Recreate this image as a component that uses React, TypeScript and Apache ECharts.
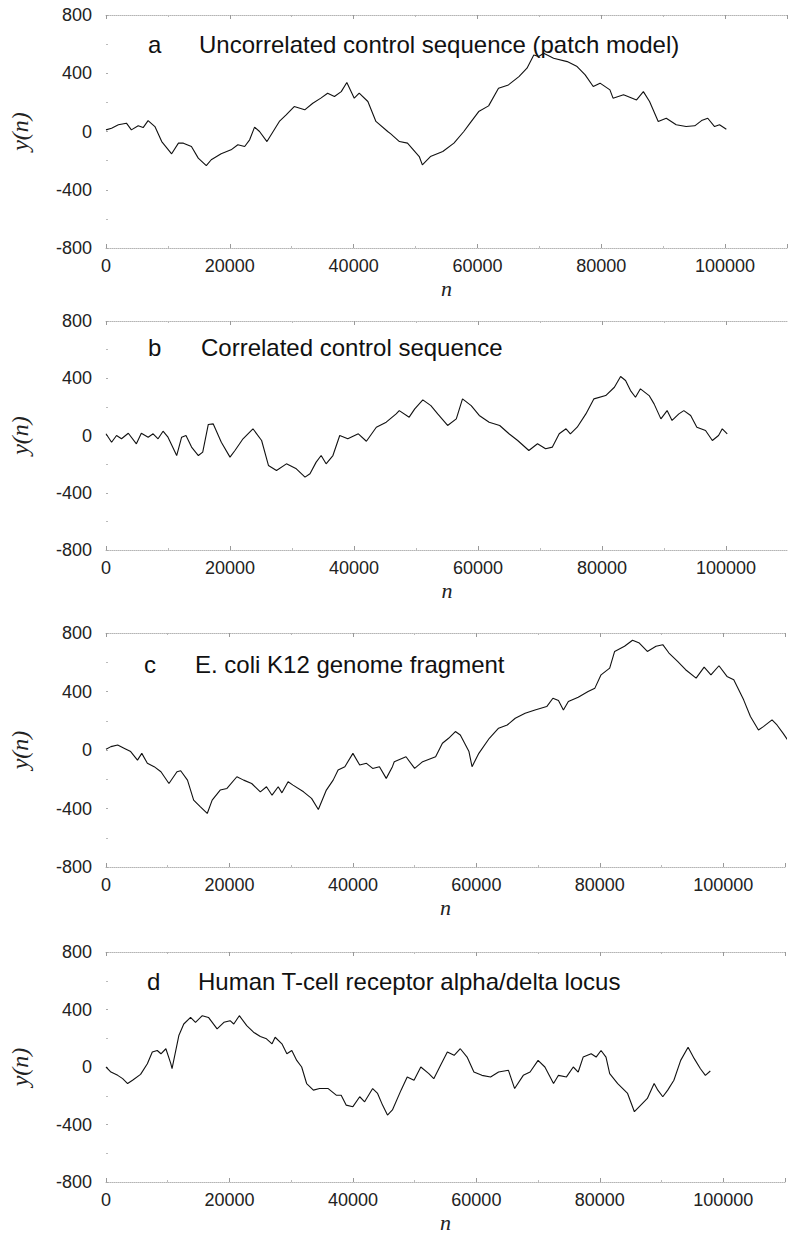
import React, { useEffect, useRef } from "react";
import * as echarts from "echarts";

// Panel data: [n, y(n)]
const walkA: [number, number][] = [
  [0, 11], [900, 23], [2000, 46], [3300, 57], [4100, 11], [5200, 39], [6000, 27], [6800, 75],
  [7900, 34], [9000, -69], [10600, -153], [11700, -80], [12500, -80], [13800, -103], [14900, -183],
  [16200, -235], [17000, -194], [18600, -153], [20200, -126], [21300, -91], [22400, -103],
  [23200, -57], [24000, 30], [24800, 0], [26000, -69], [27000, 0], [28000, 69], [29100, 114],
  [30400, 171], [32100, 149], [33400, 194], [34700, 229], [35800, 263], [36900, 240], [38000, 274],
  [38900, 336], [40100, 229], [40900, 263], [42300, 206], [43600, 69], [45500, 0], [46000, -16],
  [47400, -69], [48700, -80], [50600, -172], [51100, -229], [52400, -172], [54400, -137],
  [56200, -80], [57800, 0], [58800, 57], [60200, 137], [61800, 176], [63400, 297], [65000, 320],
  [66700, 377], [68000, 435], [69100, 526], [69900, 515], [70700, 537], [72300, 503], [74500, 480],
  [76100, 446], [77400, 389], [78700, 309], [79800, 332], [81400, 286], [81900, 229], [83600, 252],
  [85700, 217], [86800, 274], [87800, 206], [89200, 69], [90500, 91], [92100, 46], [93700, 34],
  [95100, 39], [96200, 75], [97200, 91], [98300, 34], [99100, 46], [100200, 16],
];

const walkB: [number, number][] = [
  [0, 12], [900, -47], [1700, 0], [2500, -23], [3600, 16], [4900, -58], [5700, 16], [6800, -12],
  [7600, 12], [8400, -23], [9200, 30], [10000, -12], [11400, -140], [12200, -12], [12900, 0],
  [13800, -81], [14900, -140], [15600, -116], [16500, 77], [17300, 81], [18600, -47], [20000, -151],
  [20800, -105], [22100, -23], [23700, 47], [25100, -35], [26200, -209], [27500, -244], [29100, -198],
  [30700, -233], [32100, -291], [32900, -267], [33900, -186], [34700, -140], [35500, -198],
  [36600, -140], [37700, 0], [39000, -23], [40700, 12], [42000, -40], [43600, 58], [45200, 93],
  [46800, 151], [47300, 174], [48900, 128], [49800, 186], [51100, 249], [52400, 209], [53500, 151],
  [55100, 70], [56500, 116], [57500, 256], [58900, 209], [60200, 140], [61800, 93], [63500, 70],
  [65000, 12], [66400, -35], [68200, -105], [69600, -58], [70900, -93], [72000, -81], [73100, 12],
  [74200, 47], [74900, 12], [76000, 58], [77400, 151], [78700, 256], [80600, 279], [82000, 337],
  [83000, 412], [83800, 384], [84600, 314], [85400, 267], [86200, 326], [87600, 279], [88400, 221],
  [89500, 116], [90500, 174], [91300, 105], [92400, 151], [93200, 174], [94300, 140], [95300, 58],
  [96700, 35], [97800, -35], [98800, 0], [99400, 47], [100200, 12],
];

const walkC: [number, number][] = [
  [0, 5], [800, 23], [1900, 34], [3000, 11], [4000, -11], [5100, -69], [5800, -23], [6700, -91],
  [7800, -114], [8900, -149], [10200, -229], [11500, -149], [12100, -142], [13200, -206],
  [14200, -343], [15300, -389], [16400, -434], [17200, -343], [18500, -274], [19600, -263],
  [21200, -183], [22300, -206], [23600, -229], [25000, -286], [26000, -251], [26900, -309],
  [27900, -251], [28500, -293], [29500, -217], [30300, -240], [32000, -286], [33300, -331],
  [34400, -407], [35700, -274], [36800, -206], [37600, -137], [38700, -114], [40000, -23],
  [41100, -103], [42200, -91], [43200, -126], [44300, -114], [45400, -194], [46400, -114],
  [46700, -80], [48600, -46], [50000, -126], [51300, -80], [53400, -46], [54500, 46], [55500, 80],
  [56600, 126], [57400, 103], [58800, -11], [59300, -114], [60400, -23], [62100, 80], [63600, 149],
  [65000, 171], [66300, 217], [67900, 251], [69500, 274], [71400, 297], [72400, 354], [73300, 338],
  [74100, 274], [74900, 331], [76500, 361], [78100, 400], [79200, 423], [80200, 514], [81600, 560],
  [82400, 674], [84000, 709], [85300, 750], [86400, 731], [87700, 674], [89100, 709], [90200, 720],
  [91200, 663], [92600, 606], [93900, 549], [95600, 491], [96900, 567], [98000, 514], [99300, 576],
  [100600, 503], [101700, 480], [103300, 343], [104400, 229], [105700, 137], [106500, 160],
  [107900, 206], [108700, 171], [109700, 114], [110500, 64],
];

const walkD: [number, number][] = [
  [0, 0], [800, -35], [1900, -58], [2700, -81], [3500, -115], [4300, -92], [5600, -51], [6700, 23],
  [7500, 104], [8300, 115], [8900, 92], [9700, 127], [10500, 23], [10700, -12], [11800, 219],
  [12600, 299], [13700, 345], [14500, 311], [15600, 357], [16600, 345], [18000, 265], [19100, 311],
  [20100, 322], [20700, 299], [21600, 357], [22800, 288], [23900, 242], [25000, 212], [26000, 196],
  [26900, 161], [27400, 207], [28500, 161], [29300, 92], [30100, 115], [30900, 46], [31700, 0],
  [32500, -115], [33600, -161], [34600, -150], [36000, -150], [37300, -196], [38100, -196],
  [38900, -265], [40000, -276], [41100, -207], [41900, -242], [43200, -150], [44000, -184],
  [44800, -265], [45600, -334], [46400, -299], [47800, -161], [48800, -69], [49900, -92], [51000, 0],
  [52300, -46], [53100, -81], [54200, 12], [55300, 104], [56400, 81], [57400, 127], [58500, 69],
  [59600, -35], [60900, -58], [62300, -69], [63600, -35], [65200, -23], [66200, -150], [67600, -58],
  [68700, -35], [70000, 46], [71100, 0], [72500, -115], [73300, -58], [74600, -69], [75700, 0],
  [76500, -35], [77300, 69], [78600, 92], [79400, 69], [80200, 115], [81000, 69], [81600, -46],
  [82900, -115], [84500, -184], [85600, -311], [86400, -276], [87700, -219], [88800, -115],
  [89400, -161], [90200, -207], [91000, -161], [92000, -92], [93100, 46], [94300, 138], [95300, 58],
  [96300, -12], [97100, -58], [97900, -28],
];

const panelLetters = ["a", "b", "c", "d"];
const panelTitles = [
  "Uncorrelated control sequence (patch model)",
  "Correlated control sequence",
  "E. coli K12 genome fragment",
  "Human T-cell receptor alpha/delta locus",
];
const walks = [walkA, walkB, walkC, walkD];

const X_MIN = 0;
const X_MAX = 110000;
const X_STEP = 20000;
const Y_MIN = -800;
const Y_MAX = 800;
const Y_STEP = 400;

const grids = [
  { left: 104, top: 15, width: 683, height: 233 },
  { left: 106, top: 321, width: 683, height: 229 },
  { left: 102, top: 633, width: 683, height: 234 },
  { left: 102, top: 952, width: 683, height: 231 },
];
const titleOffsets = [29, 26, 31, 29];
const letterX = [148, 148, 144, 147];
const titleX = [199, 201, 195, 198];

const SANS = "'Liberation Sans', Arial, Helvetica, sans-serif";
const SERIF = "'Liberation Serif', 'Times New Roman', serif";

export default function App() {
  const ref = useRef<HTMLDivElement>(null);

  useEffect(() => {
    document.body.style.margin = "0";
    if (!ref.current) return;
    const chart = echarts.init(ref.current, null, { renderer: "svg" });

    const xAxes: any[] = [];
    const yAxes: any[] = [];
    const series: any[] = [];
    const graphics: any[] = [];

    grids.forEach((g, i) => {
      const frameLine = {
        show: true,
        onZero: false,
        lineStyle: { color: "#b5b5b5", width: 1, type: "dotted" },
      };
      xAxes.push({
        type: "value",
        gridIndex: i,
        position: "bottom",
        min: X_MIN,
        max: X_MAX,
        interval: X_STEP,
        axisLine: frameLine,
        axisTick: { show: true, inside: true, length: 4, lineStyle: { color: "#999" } },
        minorTick: { show: true, splitNumber: 2, length: 2, lineStyle: { color: "#bbb" } },
        splitLine: { show: false },
        axisLabel: {
          fontSize: 18,
          color: "#222",
          fontFamily: SANS,
          margin: 9,
          showMaxLabel: false,
          formatter: (v: number) => String(v),
        },
        name: "n",
        nameLocation: "middle",
        nameGap: 29,
        nameTextStyle: { fontFamily: SERIF, fontStyle: "italic", fontSize: 22, color: "#222" },
      });
      xAxes.push({
        type: "value",
        gridIndex: i,
        position: "top",
        min: X_MIN,
        max: X_MAX,
        interval: X_STEP,
        axisLine: frameLine,
        axisTick: { show: true, inside: true, length: 4, lineStyle: { color: "#999" } },
        minorTick: { show: true, splitNumber: 2, length: 2, lineStyle: { color: "#bbb" } },
        splitLine: { show: false },
        axisLabel: { show: false },
      });
      yAxes.push({
        type: "value",
        gridIndex: i,
        min: Y_MIN,
        max: Y_MAX,
        interval: Y_STEP,
        axisLine: { show: false, onZero: false },
        axisTick: { show: true, inside: true, length: 2, lineStyle: { color: "#aaa" } },
        minorTick: { show: true, splitNumber: 2, length: 2, lineStyle: { color: "#bbb" } },
        splitLine: { show: false },
        axisLabel: {
          fontSize: 18,
          color: "#222",
          fontFamily: SANS,
          margin: 14,
          formatter: (v: number) => String(v),
        },
        name: "y(n)",
        nameLocation: "middle",
        nameGap: 74,
        nameTextStyle: { fontFamily: SERIF, fontStyle: "italic", fontSize: 24, color: "#222" },
      });
      series.push({
        type: "line",
        xAxisIndex: i * 2,
        yAxisIndex: i,
        data: walks[i],
        showSymbol: false,
        symbol: "none",
        lineStyle: { color: "#111", width: 1.1 },
        silent: true,
      });
      const cy = g.top + titleOffsets[i];
      graphics.push({
        type: "text",
        style: {
          text: panelLetters[i],
          x: letterX[i],
          y: cy,
          verticalAlign: "middle",
          fontSize: 24,
          fontFamily: SANS,
          fill: "#111",
        },
      });
      graphics.push({
        type: "text",
        style: {
          text: panelTitles[i],
          x: titleX[i],
          y: cy,
          verticalAlign: "middle",
          fontSize: 24,
          fontFamily: SANS,
          fill: "#111",
        },
      });
    });

    chart.setOption({
      animation: false,
      backgroundColor: "#ffffff",
      grid: grids,
      xAxis: xAxes,
      yAxis: yAxes,
      series,
      graphic: graphics,
    });

    return () => chart.dispose();
  }, []);

  return <div ref={ref} style={{ width: 788, height: 1234 }} />;
}
